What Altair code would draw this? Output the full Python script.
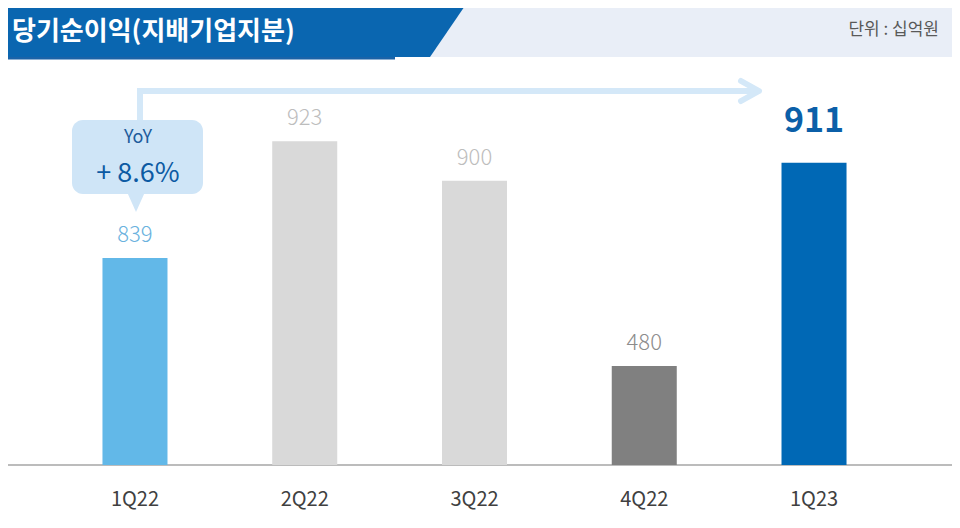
import altair as alt
import pandas as pd

# ---- data ----
quarters = ["1Q22", "2Q22", "3Q22", "4Q22", "1Q23"]
values = [839, 923, 900, 480, 911]
bar_colors = ["#62b8e8", "#d9d9d9", "#d9d9d9", "#808080", "#0068b5"]
label_colors = ["#6ab2de", "#bdbdbd", "#bdbdbd", "#8c8c8c", "#0b5fa8"]

title_text = "당기순이익(지배기업지분)"
unit_text = "단위 : 십억원"
yoy_label = "YoY"
yoy_value = "+ 8.6%"

FONT = "Noto Sans CJK KR"
W, H = 944, 512
BASE = 457  # baseline of bars (chart px)

df = pd.DataFrame({"q": quarters, "v": values, "bc": bar_colors, "lc": label_colors})

xscale = alt.Scale(domain=quarters, range=[42.1, 890.9], paddingInner=0.617, paddingOuter=0.3085)
yscale = alt.Scale(type="pow", exponent=7.6, domain=[0, 950], range=[359.57, 77.9], nice=False, zero=False)

X = alt.X("q:N", scale=xscale, axis=None, sort=quarters)
Y = alt.Y("v:Q", scale=yscale, axis=None)

# ---- header ----
hdr_bg = alt.Chart(pd.DataFrame({"x": [0], "x2": [W], "y": [0], "y2": [49]})).mark_rect(color="#e9eef7").encode(
    x=alt.X("x:Q", scale=None), x2="x2:Q", y=alt.Y("y:Q", scale=None), y2="y2:Q")

hdr_blue = alt.Chart(pd.DataFrame({"y": [0, 49], "x": [0, 0], "x2": [455.5, 422]})).mark_area(
    orient="horizontal", color="#0a66b0").encode(
    y=alt.Y("y:Q", scale=None), x=alt.X("x:Q", scale=None), x2="x2:Q")

hdr_strip = alt.Chart(pd.DataFrame({"x": [0], "x2": [387], "y": [49], "y2": [51.5]})).mark_rect(color="#1a63a8").encode(
    x=alt.X("x:Q", scale=None), x2="x2:Q", y=alt.Y("y:Q", scale=None), y2="y2:Q")

hdr_title = alt.Chart(pd.DataFrame({"t": [title_text]})).mark_text(
    align="left", baseline="middle", font=FONT, fontSize=26, fontWeight="bold", color="white").encode(
    x=alt.value(4), y=alt.value(24), text="t:N")

hdr_unit = alt.Chart(pd.DataFrame({"t": [unit_text]})).mark_text(
    align="right", baseline="middle", font=FONT, fontSize=17, color="#595959").encode(
    x=alt.value(931), y=alt.value(22), text="t:N")

# ---- bars ----
rule = alt.Chart(pd.DataFrame({"a": [0]})).mark_rule(color="#a6a6a6", strokeWidth=1.5).encode(
    x=alt.value(0), x2=alt.value(W), y=alt.value(BASE))

bars = alt.Chart(df).mark_rect().encode(
    x=X, y=Y, y2=alt.value(BASE), color=alt.Color("bc:N", scale=None))

labels = alt.Chart(df[df.q != "1Q23"]).mark_text(
    baseline="alphabetic", dy=-16, font=FONT, fontSize=22, fontWeight=300).encode(
    x=X, y=Y, text="v:Q", color=alt.Color("lc:N", scale=None))

label_last = alt.Chart(df[df.q == "1Q23"]).mark_text(
    baseline="alphabetic", dy=-31, font=FONT, fontSize=34, fontWeight="bold").encode(
    x=X, y=Y, text="v:Q", color=alt.Color("lc:N", scale=None))

cat_labels = alt.Chart(df).mark_text(
    baseline="middle", font=FONT, fontSize=20, color="#404040").encode(
    x=X, y=alt.value(492), text="q:N")

# ---- annotation: arrow + callout ----
arrow_line = alt.Chart(pd.DataFrame({"i": [0, 1, 2], "x": [132, 132, 749], "y": [112, 83, 83]})).mark_line(
    color="#d4e8f8", strokeWidth=6, strokeJoin="miter").encode(
    x=alt.X("x:Q", scale=None), y=alt.Y("y:Q", scale=None), order="i:Q")

arrow_head = alt.Chart(pd.DataFrame({"i": [0, 1, 2], "x": [733, 751, 733], "y": [73, 83, 93]})).mark_line(
    color="#d4e8f8", strokeWidth=6, strokeCap="round", strokeJoin="round").encode(
    x=alt.X("x:Q", scale=None), y=alt.Y("y:Q", scale=None), order="i:Q")

callout_box = alt.Chart(pd.DataFrame({"x": [64], "x2": [195], "y": [112], "y2": [186]})).mark_rect(
    color="#cfe5f7", cornerRadius=11).encode(
    x=alt.X("x:Q", scale=None), x2="x2:Q", y=alt.Y("y:Q", scale=None), y2="y2:Q")

callout_tip = alt.Chart(pd.DataFrame({"x": [119, 128, 137], "y": [184, 184, 184], "y2": [184, 204, 184]})).mark_area(
    orient="vertical", color="#cfe5f7").encode(
    x=alt.X("x:Q", scale=None), y=alt.Y("y:Q", scale=None), y2="y2:Q")

callout_t1 = alt.Chart(pd.DataFrame({"t": [yoy_label]})).mark_text(
    align="center", baseline="middle", font=FONT, fontSize=18, color="#1e5c9c").encode(
    x=alt.value(130), y=alt.value(130), text="t:N")

callout_t2 = alt.Chart(pd.DataFrame({"t": [yoy_value]})).mark_text(
    align="center", baseline="middle", font=FONT, fontSize=27, color="#0c5aa3").encode(
    x=alt.value(130), y=alt.value(166), text="t:N")

chart = alt.layer(
    hdr_bg, hdr_blue, hdr_strip, hdr_title, hdr_unit,
    rule, bars, labels, label_last, cat_labels,
    arrow_line, arrow_head, callout_box, callout_tip, callout_t1, callout_t2,
).resolve_scale(x="independent", y="independent", color="independent").properties(
    width=W, height=H, padding=0, autosize="none", background="white"
).configure_view(stroke=None)

chart.save("out.html", embed_options={"renderer": "svg", "actions": False})
